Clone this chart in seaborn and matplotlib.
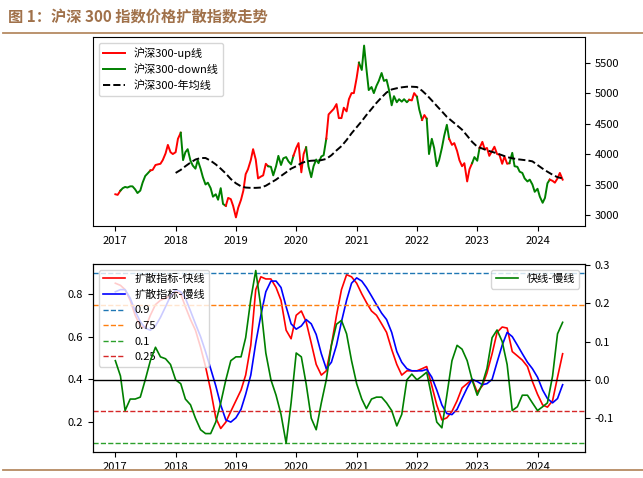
import numpy as np
import pandas as pd
import matplotlib
matplotlib.use("Agg")
import matplotlib.pyplot as plt
from matplotlib.lines import Line2D
import seaborn as sns

plt.rcParams['font.family'] = ['Noto Sans CJK SC', 'DejaVu Sans']
plt.rcParams['axes.unicode_minus'] = False

# 沪深300 semi-monthly close (1st / 15th of each month)
price_dates = pd.date_range("2017-01-01", "2024-06-01", freq="SMS")
price = [
    3340, 3330, 3400, 3440, 3460, 3450, 3470, 3470, 3420, 3360, 3400, 3530,
    3640, 3680, 3730, 3740, 3820, 3830, 3840, 3900, 4010, 4150, 4030, 4000,
    4030, 4250, 4350, 3900, 4030, 4080, 3890, 3810, 3760, 3900, 3760, 3620,
    3500, 3530, 3440, 3300, 3340, 3250, 3440, 3180, 3150, 3280, 3260, 3150,
    2960, 3120, 3250, 3400, 3670, 3750, 3900, 4080, 3910, 3600, 3630, 3650,
    3840, 3800, 3790, 3650, 3800, 3970, 3820, 3930, 3950, 3880, 3830, 3970,
    4100, 4180, 3700, 4000, 4110, 3800, 3620, 3800, 3910, 3850, 3960, 3980,
    4250, 4650, 4700, 4740, 4820, 4590, 4590, 4760, 4700, 4900, 5000, 5000,
    5250, 5500, 5380, 5780, 5400, 5050, 5100, 5000, 5120, 5200, 5330, 5200,
    5220, 5060, 4800, 4950, 4850, 4900, 4860, 4900, 4850, 4890, 4880, 5000,
    4940, 4730, 4560, 4640, 4580, 4000, 4250, 4100, 3800, 3900, 4100, 4300,
    4480, 4250, 4150, 4180, 4050, 3900, 3800, 3850, 3550, 3750, 3850, 3950,
    3890, 4100, 4200, 4080, 4100, 3970, 4050, 4120, 4000, 3990, 3840, 3960,
    3840, 3850, 4020, 3800, 3790, 3710, 3690, 3600, 3550, 3580, 3500, 3380,
    3430, 3300, 3200, 3280, 3520, 3580, 3560, 3530, 3600, 3690, 3580,
]

# up / down regime change dates
regime_start = ["2017-01-01", "2017-02-01", "2017-08-01", "2018-02-01", "2018-11-01",
                "2019-07-15", "2019-12-15", "2020-03-01", "2020-07-01", "2021-01-15",
                "2021-11-15", "2022-01-01", "2022-02-01", "2022-03-01", "2022-07-15",
                "2022-12-01", "2023-01-15", "2023-07-15", "2024-03-15"]
regime_state = ["up", "down", "up", "down", "up", "down", "up", "down", "up", "down",
                "up", "down", "up", "down", "up", "down", "up", "down", "up"]

# 年均线 (monthly)
ma_dates = pd.date_range("2018-01-01", "2024-06-01", freq="MS")
ma = [
    3690, 3740, 3800, 3860, 3910, 3935, 3935, 3890, 3830, 3760, 3680, 3590,
    3520, 3470, 3450, 3445, 3445, 3450, 3480, 3530, 3580, 3640, 3700, 3760,
    3800, 3850, 3880, 3890, 3895, 3900, 3920, 3980, 4060, 4130, 4230, 4340,
    4440, 4540, 4640, 4740, 4840, 4930, 5010, 5060, 5080, 5095, 5105, 5105,
    5100, 5040, 4970, 4880, 4790, 4700, 4610, 4540, 4470, 4400, 4300, 4200,
    4120, 4090, 4060, 4036, 4010, 3980, 3950, 3930, 3915, 3905, 3895, 3880,
    3820, 3760, 3710, 3660, 3620, 3600,
]

# diffusion index (monthly)
diff_dates = pd.date_range("2017-01-01", "2024-06-01", freq="MS")
fast = [
    0.85, 0.84, 0.82, 0.77, 0.70, 0.65, 0.64, 0.70, 0.75, 0.77, 0.78, 0.79,
    0.81, 0.80, 0.74, 0.68, 0.63, 0.55, 0.46, 0.35, 0.22, 0.17, 0.20, 0.25,
    0.30, 0.35, 0.42, 0.56, 0.82, 0.88, 0.87, 0.87, 0.83, 0.77, 0.63, 0.59,
    0.70, 0.72, 0.67, 0.57, 0.47, 0.42, 0.44, 0.56, 0.70, 0.82, 0.89, 0.88,
    0.85, 0.80, 0.76, 0.72, 0.70, 0.66, 0.62, 0.54, 0.47, 0.42, 0.44, 0.44,
    0.44, 0.45, 0.46, 0.37, 0.28, 0.21, 0.22, 0.25, 0.30, 0.36, 0.38, 0.40,
    0.34, 0.37, 0.43, 0.52, 0.62, 0.645, 0.64, 0.53, 0.51, 0.49, 0.46, 0.39,
    0.33, 0.28, 0.27, 0.30, 0.41, 0.52,
]
slow = [
    0.81, 0.82, 0.82, 0.78, 0.72, 0.67, 0.64, 0.63, 0.65, 0.69, 0.74, 0.79,
    0.82, 0.81, 0.78, 0.72, 0.66, 0.60, 0.53, 0.45, 0.37, 0.28, 0.21, 0.20,
    0.22, 0.26, 0.33, 0.42, 0.57, 0.70, 0.81, 0.86, 0.86, 0.83, 0.74, 0.66,
    0.635, 0.65, 0.68, 0.66, 0.61, 0.52, 0.45, 0.48, 0.56, 0.67, 0.77, 0.85,
    0.875, 0.86, 0.83, 0.79, 0.75, 0.71, 0.68, 0.62, 0.53, 0.48, 0.45, 0.44,
    0.44, 0.44, 0.447, 0.41, 0.35, 0.28, 0.24, 0.235, 0.26, 0.31, 0.36, 0.40,
    0.39, 0.375, 0.38, 0.40, 0.48, 0.56, 0.62, 0.60, 0.56, 0.52, 0.48, 0.45,
    0.41, 0.35, 0.31, 0.29, 0.31, 0.375,
]
gap = [
    0.05, 0.01, -0.08, -0.05, -0.05, -0.045, 0.0, 0.05, 0.085, 0.06, 0.055, 0.04,
    0.0, -0.01, -0.05, -0.065, -0.10, -0.13, -0.14, -0.14, -0.11, -0.06, 0.0, 0.05,
    0.06, 0.06, 0.11, 0.21, 0.285, 0.19, 0.07, 0.0, -0.04, -0.09, -0.165, -0.06,
    0.07, 0.06, -0.01, -0.10, -0.13, -0.06, 0.0, 0.09, 0.145, 0.155, 0.12, 0.05,
    -0.01, -0.05, -0.075, -0.05, -0.045, -0.045, -0.06, -0.08, -0.12, -0.09, 0.0, 0.015,
    0.0, 0.01, 0.02, -0.045, -0.11, -0.125, -0.04, 0.05, 0.09, 0.08, 0.05, 0.0,
    -0.04, -0.01, 0.03, 0.11, 0.13, 0.10, 0.04, -0.08, -0.07, -0.04, -0.04, -0.06,
    -0.08, -0.07, -0.06, 0.01, 0.12, 0.15,
]
levels = [0.9, 0.75, 0.1, 0.25]
level_colors = ['C0', 'C1', 'C2', 'C3']

assert len(price) == len(price_dates)
assert len(ma) == len(ma_dates)
assert len(fast) == len(slow) == len(gap) == len(diff_dates)

fig = plt.figure(figsize=(6.43, 4.78), dpi=100)

# header
brown = '#A0714A'
fig.text(0.012, 0.966, '图 1：沪深 300 指数价格扩散指数走势', color=brown,
         fontsize=11, fontweight='bold', va='center', ha='left')
fig.add_artist(Line2D([0.005, 1], [0.931, 0.931], color='#B58A62', lw=1.3))
fig.add_artist(Line2D([0.005, 1], [0.017, 0.017], color='#B58A62', lw=1.3))

# top chart
ax1 = fig.add_axes([0.1446, 0.5272, 0.7652, 0.3954])
state = pd.Series(regime_state, index=pd.to_datetime(regime_start)).reindex(price_dates, method='ffill').values
colors = {'up': 'r', 'down': 'g'}
n = len(price)
s = 0
for i in range(1, n + 1):
    if i == n or state[i] != state[s]:
        e = min(i, n - 1)
        sns.lineplot(x=price_dates[s:e + 1], y=price[s:e + 1], color=colors[state[s]],
                     lw=1.4, ax=ax1)
        s = i
sns.lineplot(x=ma_dates, y=ma, color='k', ls='--', lw=1.4, ax=ax1)
ax1.yaxis.tick_right()
ax1.set_xlabel('')
ax1.set_ylabel('')
ax1.tick_params(labelsize=8)
h1 = [Line2D([], [], color='r', lw=1.4), Line2D([], [], color='g', lw=1.4),
      Line2D([], [], color='k', ls='--', lw=1.4)]
ax1.legend(h1, ['沪深300-up线', '沪深300-down线', '沪深300-年均线'], loc='upper left', fontsize=8)

# bottom chart
ax2 = fig.add_axes([0.1446, 0.0544, 0.7652, 0.3933])
sns.lineplot(x=diff_dates, y=fast, color='r', lw=1.2, label='扩散指标-快线', ax=ax2)
sns.lineplot(x=diff_dates, y=slow, color='b', lw=1.2, label='扩散指标-慢线', ax=ax2)
for v, c in zip(levels, level_colors):
    ax2.axhline(v, ls='--', color=c, lw=1, label=str(v))
ax2.set_ylim(0.06, 0.94)
ax2.set_xlabel('')
ax2.set_ylabel('')
ax2.tick_params(labelsize=8)
ax2.legend(loc='upper left', fontsize=8)

ax3 = ax2.twinx()
sns.lineplot(x=diff_dates, y=gap, color='g', lw=1.2, label='快线-慢线', ax=ax3)
ax3.axhline(0, color='k', lw=1)
ax3.set_ylim(-0.188, 0.302)
ax3.set_yticks([-0.1, 0.0, 0.1, 0.2, 0.3])
ax3.set_ylabel('')
ax3.tick_params(labelsize=8)
ax3.legend(loc='upper right', fontsize=8)

ax1.set_xlim(ax2.get_xlim())

fig.savefig('out.png', dpi=100)
